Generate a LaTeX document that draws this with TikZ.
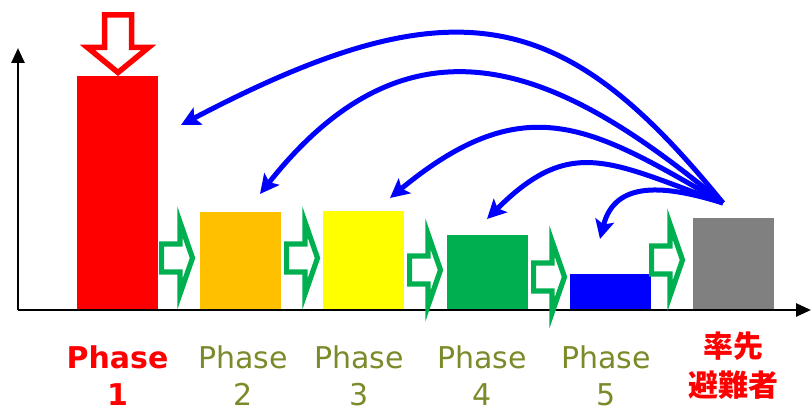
\documentclass[tikz,border=0pt]{standalone}
\usepackage{fontspec}
\setmainfont{DejaVu Sans}
\newfontfamily\cjk{Noto Sans CJK JP}
\usetikzlibrary{arrows.meta}
\definecolor{cred}{HTML}{FF0000}
\definecolor{corange}{HTML}{FFC000}
\definecolor{cyellow}{HTML}{FFFF00}
\definecolor{cgreen}{HTML}{00B050}
\definecolor{cblue}{HTML}{0000FF}
\definecolor{cgray}{HTML}{808080}
\definecolor{colive}{HTML}{7A8B2A}
\begin{document}
\begin{tikzpicture}[x=1pt,y=-1pt,
  bar/.style={draw=none,minimum width=81pt,inner sep=0pt,outer sep=0pt,anchor=south west},
  axis/.style={line width=2.6pt,-{Triangle[length=15pt,width=13pt]}},
  hollowred/.style={draw=cred,line width=5.5pt,fill=white,miter limit=10},
  hollowgreen/.style={draw=cgreen,line width=5.2pt,fill=white,miter limit=12},
  jump/.style={draw=cblue,line width=5pt,-{Stealth[length=19pt,width=19pt,inset=4pt]}},
  phaselbl/.style={align=center,inner sep=0pt,anchor=north,font=\fontsize{30}{37}\selectfont},
  garrow/.pic={\draw[hollowgreen] (2.6,-14) -- (21,-14) -- (21,-36) -- (33.5,0) -- (21,36) -- (21,14) -- (2.6,14) -- cycle;}
]
\useasboundingbox (0,0) rectangle (812,409);
% bars
\node[bar,fill=cred,minimum height=234pt] (b1) at (77,310) {};
\node[bar,fill=corange,minimum height=98pt] (b2) at (200,310) {};
\node[bar,fill=cyellow,minimum height=99pt] (b3) at (323,310) {};
\node[bar,fill=cgreen,minimum height=75pt] (b4) at (447,310) {};
\node[bar,fill=cblue,minimum height=36pt] (b5) at (570,310) {};
\node[bar,fill=cgray,minimum height=92pt] (b6) at (693,310) {};
% axes
\coordinate (o) at (18,310);
\coordinate (ytop) at (18,48);
\coordinate (xend) at (811,310);
\draw[axis] (o) -- (ytop);
\draw[axis] (o) -- (xend);
% red hollow arrow
\draw[hollowred] (104.5,15) -- (131.5,15) -- (131.5,47.5) -- (148.5,47.5) -- (118,72.5) -- (87.5,47.5) -- (104.5,47.5) -- cycle;
% green hollow arrows
\pic at (159,258) {garrow};
\pic at (284,258) {garrow};
\pic at (407,270) {garrow};
\pic at (531,277) {garrow};
\pic at (649,260) {garrow};
% blue arrows
\coordinate (src) at (723,203);
\coordinate (e1) at (181,125);
\coordinate (e2) at (260,194);
\coordinate (e3) at (390,198);
\coordinate (e4) at (487,219);
\coordinate (e5) at (600,239);
\draw[jump] (src) .. controls (565,8) and (457,-20) .. (e1);
\draw[jump] (src) .. controls (569,75) and (417,-5) .. (e2);
\draw[jump] (src) .. controls (593,128) and (527,85) .. (e3);
\draw[jump] (src) .. controls (610,162) and (571,135) .. (e4);
\draw[jump] (src) .. controls (665,185) and (615,180) .. (e5);
% labels
\node[phaselbl,text=cred,font=\fontsize{30}{37}\selectfont\bfseries] (l1) at (117.5,346) {Phase\\1};
\node[phaselbl,text=colive] (l2) at (243,346) {Phase\\2};
\node[phaselbl,text=colive] (l3) at (359,346) {Phase\\3};
\node[phaselbl,text=colive] (l4) at (482,346) {Phase\\4};
\node[phaselbl,text=colive] (l5) at (606,346) {Phase\\5};
\node[phaselbl,text=cred,font=\fontsize{30}{39}\selectfont\cjk\bfseries] (l6) at (733,332) {率先\\避難者};
\end{tikzpicture}
\end{document}
